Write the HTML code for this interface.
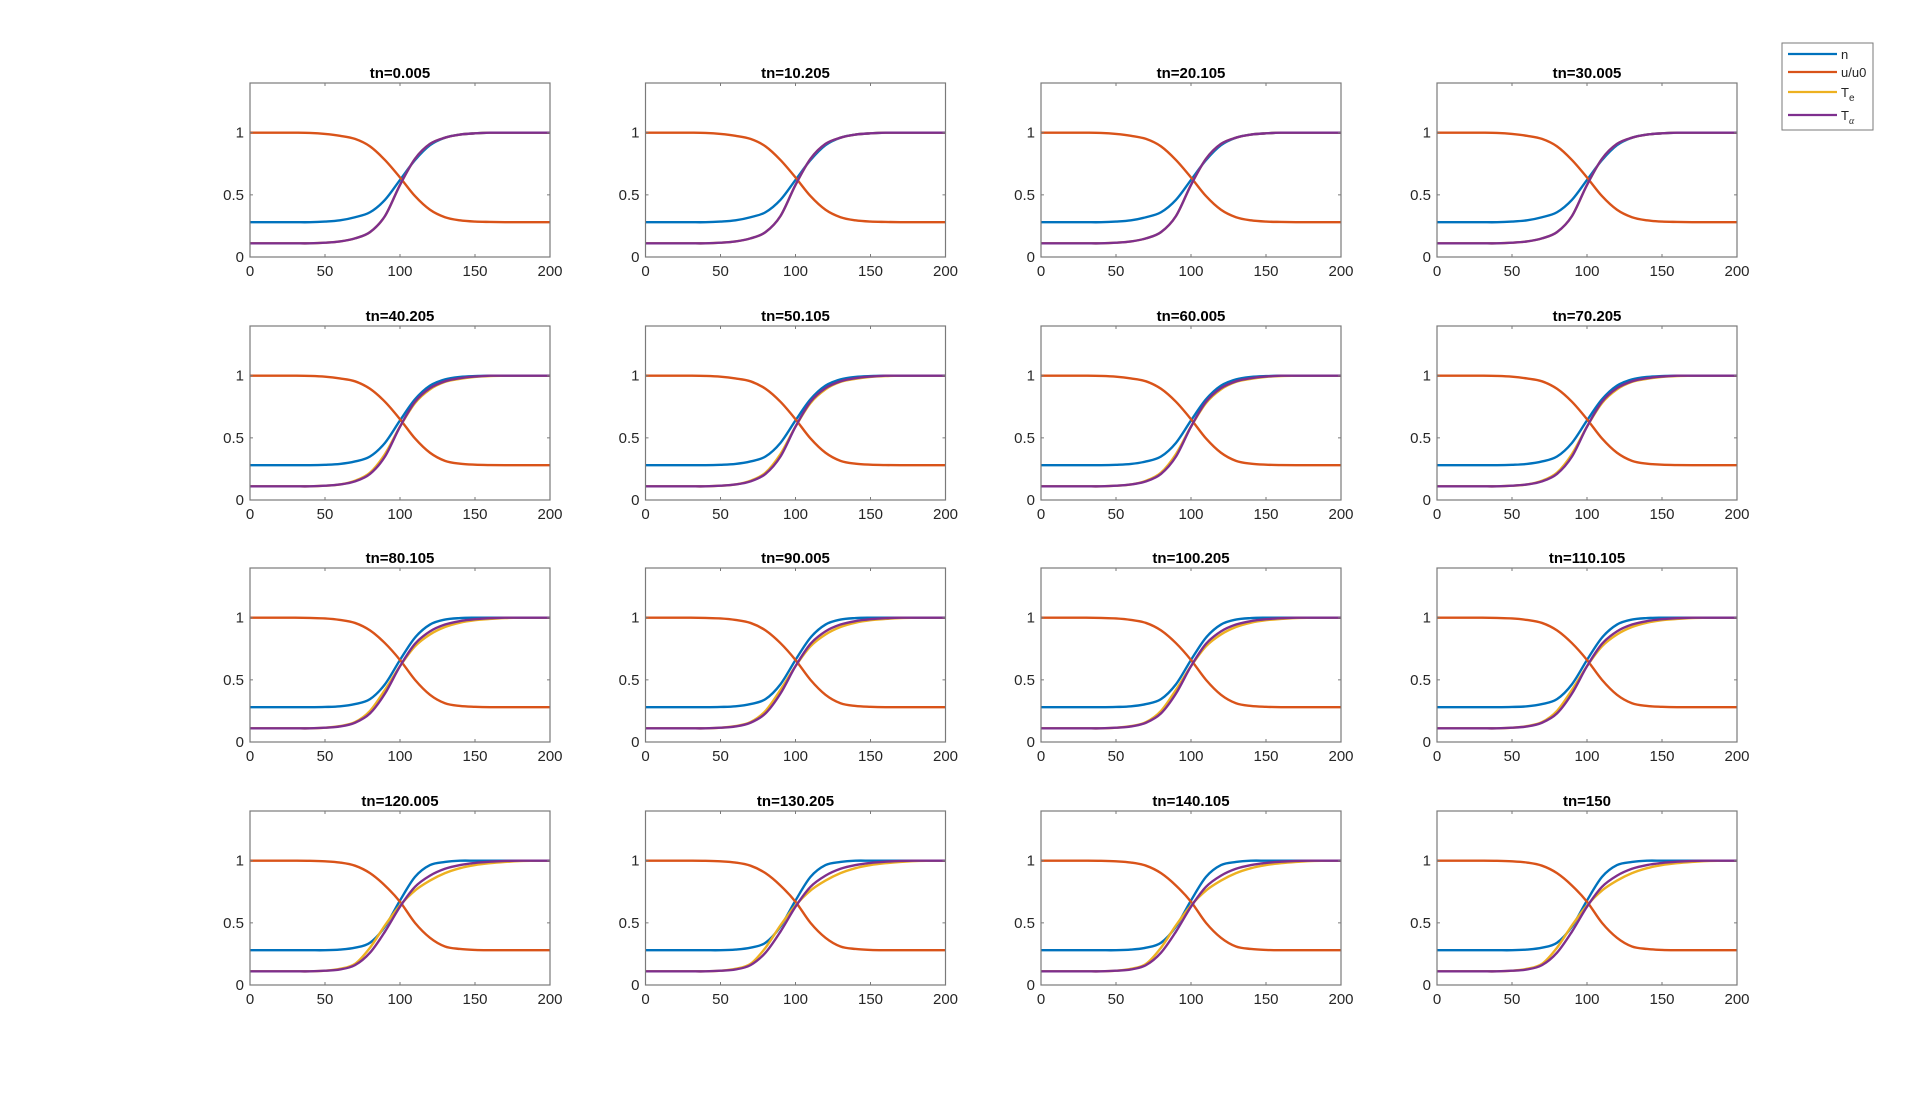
<!DOCTYPE html>
<html><head><meta charset="utf-8"><style>
html,body{margin:0;padding:0;background:#fff;}
svg{display:block;font-family:"Liberation Sans",Arial,sans-serif;}
</style></head><body>
<svg id="fig" width="1920" height="1106" viewBox="0 0 1920 1106" xmlns="http://www.w3.org/2000/svg">
<rect width="1920" height="1106" fill="#fff"/>
<g id="legend">
<rect x="1782" y="43" width="91" height="87" fill="#fff" stroke="#7a7a7a" stroke-width="1"/>
<line x1="1788" y1="54" x2="1837" y2="54" stroke="#0072BD" stroke-width="2.2"/>
<text x="1841" y="59" font-size="13" fill="#262626">n</text>
<line x1="1788" y1="72" x2="1837" y2="72" stroke="#D95319" stroke-width="2.2"/>
<text x="1841" y="77" font-size="13" fill="#262626">u/u0</text>
<line x1="1788" y1="92" x2="1837" y2="92" stroke="#EDB120" stroke-width="2.2"/>
<text x="1841" y="97" font-size="13" fill="#262626">T<tspan font-size="10" dy="4">e</tspan></text>
<line x1="1788" y1="115" x2="1837" y2="115" stroke="#7E2F8E" stroke-width="2.2"/>
<text x="1841" y="120" font-size="13" fill="#262626">T<tspan font-size="10" dy="4" font-style="italic" font-family="Liberation Serif,serif">α</tspan></text>
</g>
</svg>
<script>
const titles = ["tn=0.005","tn=10.205","tn=20.105","tn=30.005","tn=40.205","tn=50.105","tn=60.005","tn=70.205","tn=80.105","tn=90.005","tn=100.205","tn=110.105","tn=120.005","tn=130.205","tn=140.105","tn=150"];
const xSamples = [0,10,20,30,40,50,60,70,80,90,100,110,120,130,140,150,160,170,180,190,200];
const xTicks = [0,50,100,150,200];
const yTicks = [0,0.5,1];
const yTickLabels = ["0","0.5","1"];
// per-row profiles (rows 1..4)
const nRows = [
 [0.28,0.28,0.28,0.28,0.28,0.285,0.295,0.32,0.36,0.46,0.62,0.78,0.9,0.96,0.985,0.995,1,1,1,1,1],
 [0.28,0.28,0.28,0.28,0.28,0.283,0.29,0.31,0.35,0.46,0.64,0.81,0.92,0.97,0.99,0.997,1,1,1,1,1],
 [0.28,0.28,0.28,0.28,0.28,0.282,0.287,0.305,0.345,0.465,0.66,0.84,0.945,0.985,0.997,1,1,1,1,1,1],
 [0.28,0.28,0.28,0.28,0.28,0.28,0.285,0.3,0.34,0.47,0.68,0.87,0.965,0.99,1,1,1,1,1,1,1]
];
const uRows = [
 [1,1,1,1,0.998,0.99,0.975,0.95,0.89,0.78,0.64,0.49,0.38,0.32,0.295,0.285,0.282,0.28,0.28,0.28,0.28],
 [1,1,1,1,0.998,0.992,0.978,0.955,0.895,0.79,0.65,0.495,0.38,0.315,0.292,0.284,0.281,0.28,0.28,0.28,0.28],
 [1,1,1,1,0.998,0.994,0.982,0.958,0.898,0.795,0.66,0.5,0.38,0.312,0.29,0.283,0.28,0.28,0.28,0.28,0.28],
 [1,1,1,1,0.999,0.995,0.985,0.96,0.9,0.8,0.67,0.5,0.38,0.31,0.29,0.282,0.28,0.28,0.28,0.28,0.28]
];
const teRows = [
 [0.11,0.11,0.11,0.11,0.11,0.115,0.125,0.15,0.2,0.33,0.58,0.79,0.91,0.96,0.985,0.995,1,1,1,1,1],
 [0.11,0.11,0.11,0.11,0.11,0.115,0.125,0.155,0.22,0.37,0.59,0.78,0.89,0.95,0.975,0.99,0.997,1,1,1,1],
 [0.11,0.11,0.11,0.11,0.11,0.115,0.128,0.16,0.25,0.42,0.61,0.77,0.865,0.925,0.96,0.98,0.99,0.997,1,1,1],
 [0.11,0.11,0.11,0.11,0.11,0.115,0.13,0.17,0.3,0.48,0.64,0.76,0.84,0.9,0.94,0.965,0.98,0.99,0.997,1,1]
];
const taRows = [
 [0.11,0.11,0.11,0.11,0.11,0.115,0.125,0.15,0.2,0.33,0.58,0.79,0.91,0.96,0.985,0.995,1,1,1,1,1],
 [0.11,0.11,0.11,0.11,0.11,0.115,0.125,0.15,0.21,0.35,0.59,0.79,0.9,0.955,0.98,0.993,1,1,1,1,1],
 [0.11,0.11,0.11,0.11,0.11,0.115,0.125,0.155,0.23,0.39,0.61,0.79,0.89,0.945,0.973,0.988,0.996,1,1,1,1],
 [0.11,0.11,0.11,0.11,0.11,0.115,0.125,0.16,0.26,0.43,0.63,0.79,0.88,0.935,0.965,0.982,0.992,0.998,1,1,1]
];
const colors = ["#0072BD","#D95319","#EDB120","#7E2F8E"];
const seriesNames = ["n","u-u0","te","ta"];

const NS="http://www.w3.org/2000/svg";
const svg=document.getElementById('fig');
const legend=document.getElementById('legend');
const colX=[250,645.5,1041,1437], rowY=[83,326,568,811], W=300, H=174;
function mk(tag,attrs,parent){const e=document.createElementNS(NS,tag);for(const k in attrs)e.setAttribute(k,attrs[k]);parent.appendChild(e);return e;}
function pathFrom(pts){let d="M"+pts[0][0].toFixed(2)+","+pts[0][1].toFixed(2);
 for(let i=0;i<pts.length-1;i++){const p0=pts[Math.max(0,i-1)],p1=pts[i],p2=pts[i+1],p3=pts[Math.min(pts.length-1,i+2)];
  const c1=[p1[0]+(p2[0]-p0[0])/6,p1[1]+(p2[1]-p0[1])/6],c2=[p2[0]-(p3[0]-p1[0])/6,p2[1]-(p3[1]-p1[1])/6];
  d+=" C"+c1[0].toFixed(2)+","+c1[1].toFixed(2)+" "+c2[0].toFixed(2)+","+c2[1].toFixed(2)+" "+p2[0].toFixed(2)+","+p2[1].toFixed(2);}
 return d;}
for(let p=0;p<16;p++){
 const r=Math.floor(p/4),c=p%4,x0=colX[c],y0=rowY[r];
 const sx=v=>x0+v/200*W, sy=v=>y0+H-v/1.4*H;
 const g=mk('g',{},svg);
 
 
 mk('rect',{x:x0,y:y0,width:W,height:H,fill:'#fff'},g);
 const data=[nRows[r],uRows[r],teRows[r],taRows[r]];
 [0,1,2,3].forEach(s=>{
  const pts=xSamples.map((xv,i)=>[sx(xv),sy(data[s][i])]);
  const path=mk('path',{d:pathFrom(pts),fill:'none',stroke:colors[s],'stroke-width':2.4,'stroke-linejoin':'round'},g);
  
  
 });
 mk('rect',{x:x0,y:y0,width:W,height:H,fill:'none',stroke:'#7a7a7a','stroke-width':1.2},g);
 xTicks.forEach(t=>{const X=sx(t);
  mk('line',{x1:X,y1:y0+H,x2:X,y2:y0+H-3,stroke:'#7a7a7a'},g);
  mk('line',{x1:X,y1:y0,x2:X,y2:y0+3,stroke:'#7a7a7a'},g);
  const tx=mk('text',{x:X,y:y0+H+19,'font-size':15,'text-anchor':'middle',fill:'#262626'},g);tx.textContent=t;
  
  
 });
 yTicks.forEach((t,i)=>{const Y=sy(t);
  mk('line',{x1:x0,y1:Y,x2:x0+3,y2:Y,stroke:'#7a7a7a'},g);
  mk('line',{x1:x0+W,y1:Y,x2:x0+W-3,y2:Y,stroke:'#7a7a7a'},g);
  const ty=mk('text',{x:x0-6,y:Y+5,'font-size':15,'text-anchor':'end',fill:'#262626'},g);ty.textContent=yTickLabels[i];
  
  
 });
 const tt=mk('text',{x:x0+W/2,y:y0-5,'font-size':15,'font-weight':'bold','text-anchor':'middle',fill:'#000'},g);
 tt.textContent=titles[p];
 
 
}
svg.appendChild(legend);
</script>
</body></html>
